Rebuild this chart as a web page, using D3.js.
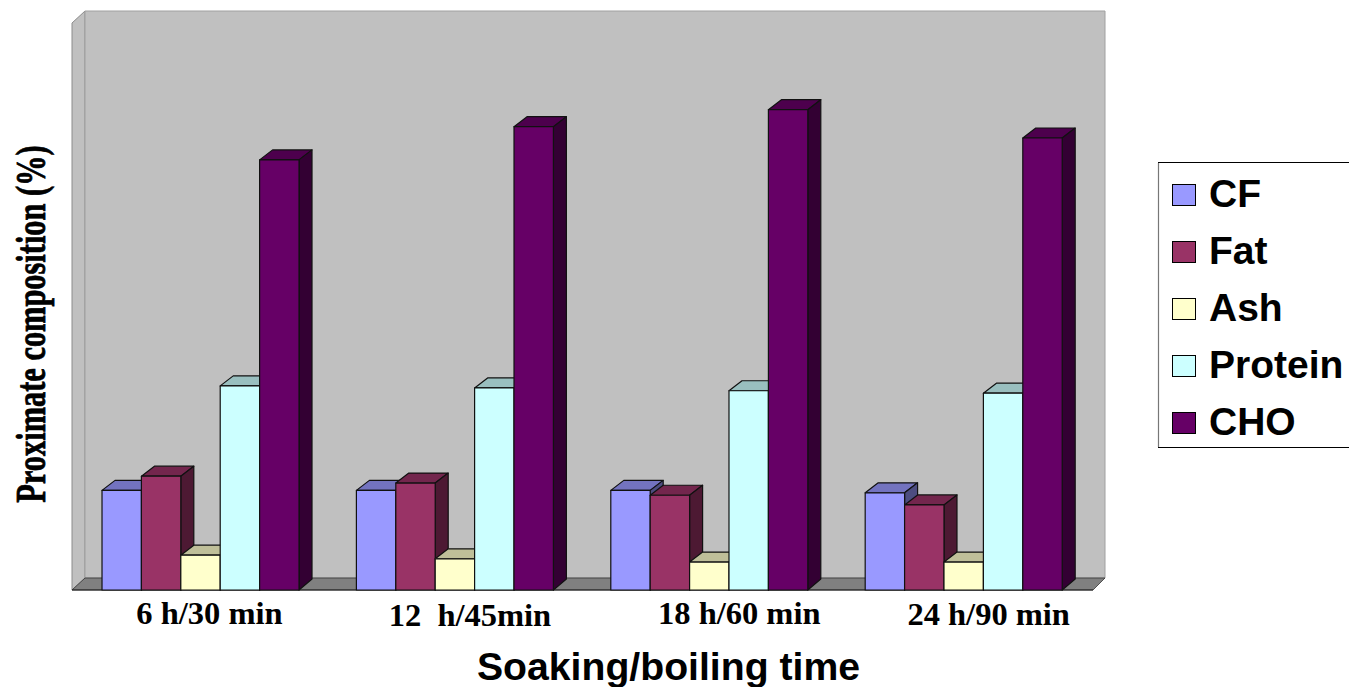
<!DOCTYPE html>
<html><head><meta charset="utf-8">
<script src="https://cdn.jsdelivr.net/npm/d3@7"></script>
<style>html,body{margin:0;padding:0;background:#fff;overflow:hidden}svg{display:block}text{white-space:pre}</style>
</head><body><svg id="c" width="1349" height="687"></svg>
<script>
const categories = ["6 h/30 min", "12  h/45min", "18 h/60 min", "24 h/90 min"];
const seriesNames = ["CF", "Fat", "Ash", "Protein", "CHO"];
const CF = [12.3, 12.3, 12.3, 12.0];
const Fat = [14.05, 13.2, 11.7, 10.5];
const Ash = [4.3, 3.85, 3.45, 3.45];
const Protein = [25.2, 24.95, 24.6, 24.3];
const CHO = [53.1, 57.2, 59.3, 55.8];
const seriesValues = [CF, Fat, Ash, Protein, CHO];

const colors = ["#9999ff", "#993366", "#ffffcc", "#ccffff", "#660066"];
const topColors = ["#7373bf", "#73264d", "#bfbf99", "#99bfbf", "#4d004d"];
const sideColors = ["#4d4d80", "#4d1933", "#808066", "#668080", "#330033"];
const labelShift = [9, 15, 30, 25];
const labelDrop = [0, 2, 0, 1];

const svg = d3.select("#c");
const L = 72, R = 1093, B = 590, T = 23, DX = 13, DY = 12;

const y = d3.scaleLinear().domain([0, 70]).range([B, T]);
const x0 = d3.scaleBand().domain(categories).range([L + 0.5, 1091.7]).paddingInner(0.2256).paddingOuter(0.116).align(0.5);
const x1 = d3.scaleBand().domain(seriesNames).range([0, x0.bandwidth()]);

const poly = pts => pts.map(p => p.join(",")).join(" ");

// walls and floor
svg.append("polygon").attr("points", poly([[L, T], [L + DX, T - DY], [L + DX, B - DY], [L, B]]))
  .attr("fill", "#c0c0c0").attr("stroke", "#8c8c8c").attr("stroke-width", 1);
svg.append("polygon").attr("points", poly([[L + DX, T - DY], [R + DX - 1, T - DY], [R + DX - 1, B - DY], [L + DX, B - DY]]))
  .attr("fill", "#c0c0c0").attr("stroke", "#a0a0a0").attr("stroke-width", 1);
svg.append("polygon").attr("points", poly([[L, B], [L + DX, B - DY], [R + DX - 1, B - DY], [R, B]]))
  .attr("fill", "#808080").attr("stroke", "#333").attr("stroke-width", 0.8);
svg.append("line").attr("x1", L).attr("x2", R).attr("y1", B).attr("y2", B).attr("stroke", "#222").attr("stroke-width", 1);

// bars
categories.forEach((cat, ci) => {
  const g = svg.append("g").attr("transform", `translate(${x0(cat)},0)`);
  seriesNames.forEach((s, si) => {
    const v = seriesValues[si][ci];
    const a = x1(s), b = a + x1.bandwidth(), t = y(v);
    const add = (pts, fill) => g.append("polygon").attr("points", poly(pts)).attr("fill", fill)
      .attr("stroke", "#111").attr("stroke-width", 1.2).attr("stroke-linejoin", "round");
    add([[a, t], [a + DX, t - DY + 2], [b + DX, t - DY + 2], [b, t]], topColors[si]);
    add([[b, t], [b + DX, t - DY + 2], [b + DX, B - DY + 1], [b, B]], sideColors[si]);
    add([[a, t], [b, t], [b, B], [a, B]], colors[si]);
  });
});

// category labels
svg.append("g").selectAll("text").data(categories).join("text")
  .attr("x", (d, i) => x0(d) + x0.bandwidth() / 2 + labelShift[i])
  .attr("y", (d, i) => 623.5 + labelDrop[i])
  .attr("text-anchor", "middle")
  .attr("font-family", "'Liberation Serif'").attr("font-weight", "bold").attr("font-size", 32.5)
  .attr("fill", "#000").text(d => d);

// axis titles
svg.append("text").attr("x", 668.5).attr("y", 680).attr("text-anchor", "middle")
  .attr("font-family", "'Liberation Sans'").attr("font-weight", "bold").attr("font-size", 39.2)
  .text("Soaking/boiling time");
svg.append("text")
  .attr("transform", "translate(45,324) rotate(-90) scale(0.95,1.35)")
  .attr("text-anchor", "middle")
  .attr("font-family", "'Liberation Serif'").attr("font-weight", "bold").attr("font-size", 32)
  .attr("stroke", "#000").attr("stroke-width", 0.6)
  .text("Proximate composition (%)");

// legend
svg.append("rect").attr("x", 1158.5).attr("y", 162.5).attr("width", 200).attr("height", 285)
  .attr("fill", "#fff").attr("stroke", "#000").attr("stroke-width", 1);
svg.append("line").attr("x1", 1158.5).attr("x2", 1158.5).attr("y1", 163).attr("y2", 447)
  .attr("stroke", "#777").attr("stroke-width", 1.2);
const leg = d3.scaleBand().domain(seriesNames).range([166, 451]);
const lg = svg.append("g").selectAll("g").data(seriesNames).join("g")
  .attr("transform", d => `translate(1172,${leg(d) + 18})`);
lg.append("rect").attr("x", 0.5).attr("y", 0.5).attr("width", 23).attr("height", 21)
  .attr("fill", (d, i) => colors[i]).attr("stroke", "#000").attr("stroke-width", 1);
lg.append("text").attr("x", 37).attr("y", 23)
  .attr("font-family", "'Liberation Sans'").attr("font-weight", "bold").attr("font-size", 39)
  .text(d => d);
</script></body></html>
